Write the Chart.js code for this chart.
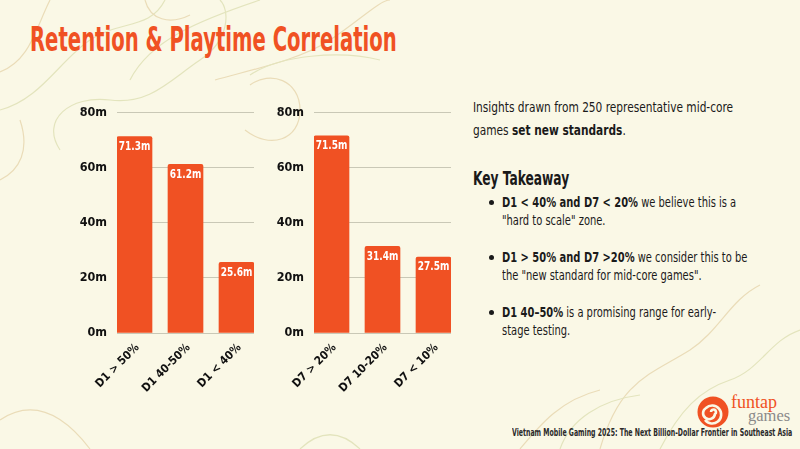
<!DOCTYPE html>
<html>
<head>
<meta charset="utf-8">
<script src="https://cdn.jsdelivr.net/npm/chart.js@4.4.1/dist/chart.umd.min.js"></script>
<style>
  html, body { margin: 0; padding: 0; }
  body {
    width: 800px; height: 449px; overflow: hidden; position: relative;
    background: #faf8e6;
    font-family: "DejaVu Sans Condensed", sans-serif;
    color: #1a1a1a;
  }
  #bg { position: absolute; left: 0; top: 0; }
  .sq { display: inline-block; white-space: nowrap; transform-origin: 0 0; }
  h1 {
    position: absolute; left: 30px; top: 20px; margin: 0;
    font-size: 33px; font-weight: bold; color: #f05123;
  }
  .box { position: absolute; }
  #intro { position: absolute; left: 473px; top: 96px; font-size: 14.5px; line-height: 23px; }
  #kt { position: absolute; left: 473px; top: 167px; font-size: 19px; line-height: 22px; font-weight: bold; }
  #bullets { position: absolute; left: 473px; top: 193px; margin: 0; padding: 0 0 0 29px; list-style: none; font-size: 14.5px; line-height: 18px; }
  #bullets li { position: relative; margin-bottom: 19px; }
  #bullets li::before { content: ""; position: absolute; left: -13px; top: 7px; width: 5px; height: 5px; border-radius: 50%; background: #1a1a1a; }
  #foot { position: absolute; left: 512px; top: 426px; font-size: 11px; font-weight: bold; color: #2a2a2a; }
  .logo { position: absolute; font-family: "Liberation Serif", serif; white-space: nowrap; }
</style>
</head>
<body>
<svg id="bg" width="800" height="449" fill="none" stroke-width="1.2">
  <path d="M0,72 C30,60 35,30 50,0" stroke="#eadcb8"/>
  <path d="M0,110 C40,100 60,60 90,40 C120,20 150,30 165,0" stroke="#e3e4bd"/>
  <path d="M60,150 C40,120 70,95 110,100 C150,105 170,80 200,60 C230,40 230,10 220,0" stroke="#e3e4bd"/>
  <path d="M0,180 C20,170 30,150 20,120" stroke="#eadcb8"/>
  <path d="M130,80 C150,40 200,20 260,0" stroke="#e3e4bd"/>
  <path d="M245,130 C270,150 300,140 300,110 C300,80 270,70 250,85" stroke="#eadcb8"/>
  <path d="M145,0 C150,20 170,25 190,15" stroke="#eadcb8"/>
  <path d="M215,80 C250,70 300,60 330,40 C360,20 380,0 390,0" stroke="#eadcb8"/>
  <path d="M250,75 C280,55 340,50 380,60" stroke="#e3e4bd"/>
  <path d="M760,285 C730,300 720,330 690,350 C650,375 620,380 600,449" stroke="#eadcb8"/>
  <path d="M800,330 C770,340 760,370 730,380 C700,390 680,410 660,449" stroke="#e3e4bd"/>
  <path d="M560,449 C570,420 600,400 640,395" stroke="#e3e4bd"/>
  <path d="M520,449 C540,425 560,400 600,390" stroke="#eadcb8"/>
  <path d="M0,420 C30,400 60,410 90,449" stroke="#eadcb8"/>
  <path d="M300,449 C320,430 340,430 360,449" stroke="#e3e4bd"/>
</svg>

<h1 id="title" class="sq">Retention &amp; Playtime Correlation</h1>

<div class="box" style="left:57px; top:95px; width:197px; height:304px;"><canvas id="chartD1"></canvas></div>
<div class="box" style="left:254px; top:95px; width:197px; height:304px;"><canvas id="chartD7"></canvas></div>

<div id="intro" class="sq">Insights drawn from 250 representative mid-core<br>games <b>set new standards</b>.</div>
<div id="kt" class="sq">Key Takeaway</div>
<ul id="bullets">
  <li><span class="sq t"><b>D1 &lt; 40% and D7 &lt; 20%</b> we believe this is a<br>"hard to scale" zone.</span></li>
  <li><span class="sq t"><b>D1 &gt; 50% and D7 &gt;20%</b> we consider this to be<br>the "new standard for mid-core games".</span></li>
  <li><span class="sq t"><b>D1 40–50%</b> is a promising range for early-<br>stage testing.</span></li>
</ul>

<svg style="position:absolute; left:697px; top:396px;" width="32" height="32">
  <circle cx="16" cy="16" r="15.5" fill="#f05123"/>
  <path d="M16,16 m-2,0 a2.5,2.5 0 1 1 4,2 a6,6 0 1 1 -9,-6 a9,9 0 1 1 -1,12" stroke="#faf8e6" stroke-width="2.6" fill="none"/>
</svg>
<div class="logo" style="left:731px; top:392px; font-size:18px; color:#f05123;">funtap</div>
<div class="logo" style="left:748px; top:406px; font-size:16.5px; color:#8a8a8a;">games</div>
<div id="foot" class="sq">Vietnam Mobile Gaming 2025: The Next Billion-Dollar Frontier in Southeast Asia</div>

<script>
// ---- data ----
const d1Labels = ["D1 > 50%", "D1 40-50%", "D1 < 40%"];
const d1Values = [71.3, 61.2, 25.6];
const d7Labels = ["D7 > 20%", "D7 10-20%", "D7 < 10%"];
const d7Values = [71.5, 31.4, 27.5];
const yTicks = [0, 20, 40, 60, 80];

const ORANGE = "#f05123";
const FONT = "'DejaVu Sans Condensed', sans-serif";

// squeeze wide text horizontally to the reference widths
function squeeze(el, w) {
    el.style.transform = "scaleX(" + (w / el.offsetWidth) + ")";
}
squeeze(document.getElementById("title"), 367);
squeeze(document.getElementById("intro"), 260);
squeeze(document.getElementById("kt"), 96);
squeeze(document.getElementById("foot"), 280);
const bulletText = document.querySelectorAll("#bullets .t");
const k = 245 / bulletText[1].offsetWidth;
bulletText.forEach(el => { el.style.transform = "scaleX(" + k + ")"; });

// white value labels inside the top of each bar
const valueLabels = {
    id: "valueLabels",
    afterDatasetsDraw(chart) {
        const ctx = chart.ctx;
        const meta = chart.getDatasetMeta(0);
        ctx.save();
        ctx.fillStyle = "#fff";
        ctx.font = "bold 12.5px " + FONT;
        ctx.textAlign = "center";
        ctx.textBaseline = "middle";
        meta.data.forEach((bar, i) => {
            ctx.save();
            ctx.translate(bar.x, bar.y + 10);
            ctx.scale(0.8, 1);
            ctx.fillText(chart.data.datasets[0].data[i].y + "m", 0, 0);
            ctx.restore();
        });
        ctx.restore();
    }
};

function makeChart(id, labels, values) {
    return new Chart(document.getElementById(id), {
        type: "bar",
        data: {
            datasets: [{
                data: values.map((v, i) => ({ x: i, y: v })),
                backgroundColor: ORANGE,
                borderRadius: { topLeft: 2, topRight: 2 },
                borderSkipped: "bottom",
                barThickness: 35
            }]
        },
        options: {
            responsive: true,
            maintainAspectRatio: false,
            animation: false,
            layout: { padding: 0 },
            plugins: { legend: { display: false }, tooltip: { enabled: false } },
            scales: {
                x: {
                    type: "linear",
                    min: -0.343,
                    max: 2.343,
                    offset: false,
                    grid: { display: false, offset: false },
                    border: { display: false },
                    afterBuildTicks: s => { s.ticks = labels.map((l, i) => ({ value: i })); },
                    afterFit: s => { s.height = 66; s.paddingLeft = 0; s.paddingRight = 0; },
                    ticks: {
                        callback: v => labels[v],
                        maxRotation: 45,
                        minRotation: 45,
                        padding: 0,
                        labelOffset: 3,
                        color: "#111",
                        font: { family: FONT, size: 11.5, weight: "bold" }
                    }
                },
                y: {
                    min: 0,
                    max: 80,
                    afterBuildTicks: s => { s.ticks = yTicks.map(v => ({ value: v })); },
                    afterFit: s => { s.width = 60; },
                    grid: { color: "#c9c8b6", lineWidth: 1, drawTicks: false },
                    border: { display: false },
                    ticks: {
                        callback: v => v + "m",
                        padding: 10,
                        color: "#111",
                        font: { family: FONT, size: 12.5, weight: "bold" }
                    }
                }
            }
        },
        plugins: [valueLabels]
    });
}

makeChart("chartD1", d1Labels, d1Values);
makeChart("chartD7", d7Labels, d7Values);
</script>
</body>
</html>
